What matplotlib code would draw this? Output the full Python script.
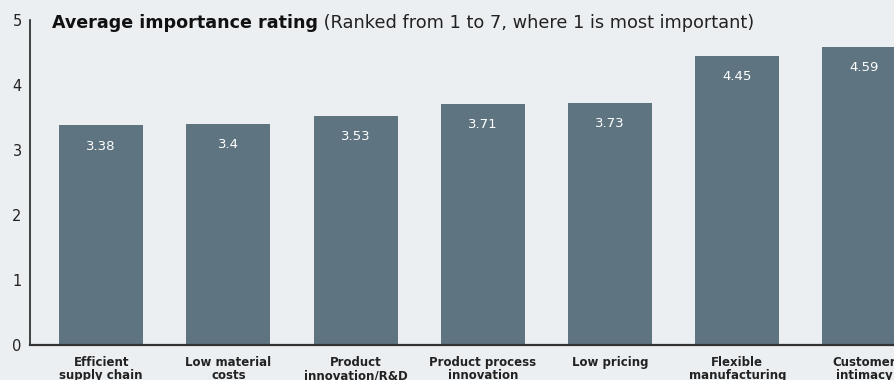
import matplotlib
matplotlib.use("Agg")
import matplotlib.pyplot as plt

categories = ["Efficient\nsupply chain", "Low material\ncosts", "Product\ninnovation/R&D",
              "Product process\ninnovation", "Low pricing", "Flexible\nmanufacturing",
              "Customer\nintimacy"]
ratings = [3.38, 3.4, 3.53, 3.71, 3.73, 4.45, 4.59]
yticks = [0, 1, 2, 3, 4, 5]

bg = "#eceff2"
bar_color = "#5e7480"
font = "DejaVu Sans"

fig = plt.figure(figsize=(8.95, 3.8), dpi=100, facecolor=bg)
ax = fig.add_axes([0.0335, 0.092, 0.9665, 0.855], facecolor=bg)

x = range(len(ratings))
ax.bar(x, ratings, width=0.66, color=bar_color, zorder=2)

# value printed just under the top of each bar
for i, v in zip(x, ratings):
    ax.annotate(f"{v:g}", xy=(i, v), xytext=(0, -15), textcoords="offset points",
                ha="center", va="center", color="white", fontsize=9.5, family=font)

ax.set_xlim(-0.56, 6.24)
ax.set_ylim(0, 5)
ax.set_yticks(yticks)
ax.set_yticklabels([str(t) for t in yticks], fontsize=10.5, family=font, color="#222222")
ax.set_xticks(list(x))
ax.set_xticklabels(categories, fontsize=8.5, fontweight="bold", family=font,
                   color="#222222", linespacing=1.0)
ax.tick_params(axis="both", length=0)
ax.tick_params(axis="x", pad=8)
ax.tick_params(axis="y", pad=6)

for side in ["top", "right"]:
    ax.spines[side].set_visible(False)
ax.spines["left"].set_color("#222222")
ax.spines["left"].set_linewidth(1.2)
ax.spines["bottom"].set_color("#333333")
ax.spines["bottom"].set_linewidth(1.6)

# title: bold lead-in followed by a regular-weight note
t1 = ax.text(0.025, 4.96, "Average importance rating", transform=ax.get_yaxis_transform(),
             fontsize=12.6, fontweight="heavy", family=font, color="#111111", va="center")
ax.annotate(" (Ranked from 1 to 7, where 1 is most important)", xy=(1, 0), xycoords=t1,
            va="bottom", fontsize=12.8, family=font, color="#222222")

fig.savefig("out.png", dpi=100, facecolor=bg)
